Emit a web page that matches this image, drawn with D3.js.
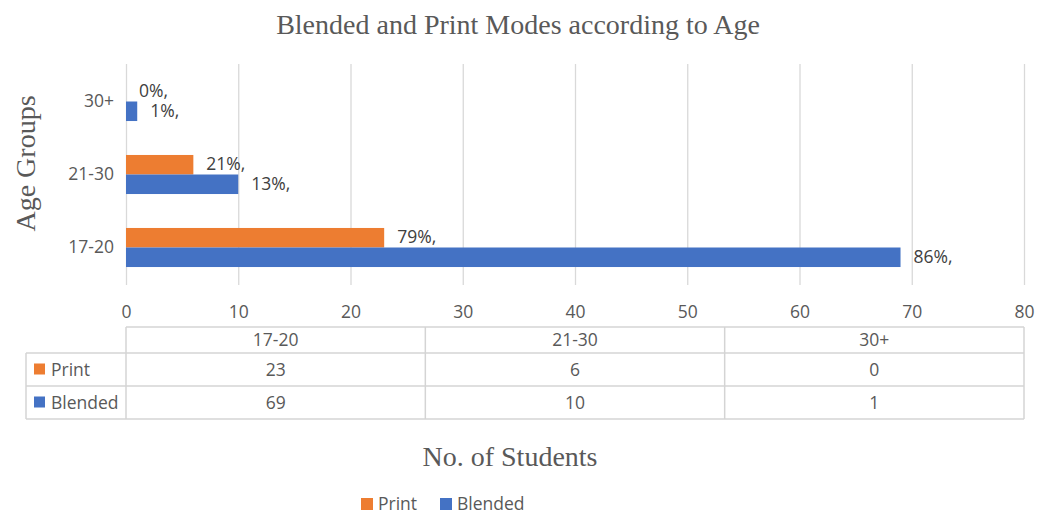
<!DOCTYPE html>
<html>
<head>
<meta charset="utf-8">
<script src="https://cdn.jsdelivr.net/npm/d3@7"></script>
<style>
  html, body { margin: 0; padding: 0; background: #fff; }
  svg { display: block; }
</style>
</head>
<body>
<svg id="chart" width="1037" height="514"></svg>
<script>
// ---- data ----
const categories = ["17-20", "21-30", "30+"];
const seriesNames = ["Print", "Blended"];
const printValues = [23, 6, 0];
const blendedValues = [69, 10, 1];
const printLabels = ["79%,", "21%,", "0%,"];
const blendedLabels = ["86%,", "13%,", "1%,"];
const xTicks = [0, 10, 20, 30, 40, 50, 60, 70, 80];
const colors = { Print: "#ED7D31", Blended: "#4472C4" };

const titleText = "Blended and Print Modes according to Age";
const yTitleText = "Age Groups";
const xTitleText = "No. of Students";

const series = [
  { name: "Print", values: printValues, labels: printLabels },
  { name: "Blended", values: blendedValues, labels: blendedLabels }
];

const textColor = "#595959";
const gridColor = "#d9d9d9";
const sans = "'Open Sans', 'Liberation Sans', sans-serif";
const serif = "'Liberation Serif', 'DejaVu Serif', serif";
const fs = 17.5;
const serifSize = 28;

const svg = d3.select("#chart");

const plot = { left: 126, right: 1024, top: 65, bottom: 284 };

const x = d3.scaleLinear().domain([0, 80]).range([plot.left, plot.right]);
const y = d3.scaleBand()
  .domain(categories.slice().reverse())
  .range([plot.top, plot.bottom])
  .paddingInner(0.465)
  .paddingOuter(0.2325);
const ySub = d3.scaleBand().domain(seriesNames).range([0, y.bandwidth()]);

// title
svg.append("text")
  .attr("x", 518).attr("y", 34)
  .attr("text-anchor", "middle")
  .attr("font-family", serif).attr("font-size", serifSize)
  .attr("fill", textColor)
  .text(titleText);

// gridlines via axis
const gridAxis = d3.axisBottom(x).tickValues(xTicks).tickSize(-(plot.bottom - plot.top + 2)).tickFormat("");
svg.append("g")
  .attr("transform", `translate(0,${plot.bottom + 1})`)
  .call(gridAxis)
  .call(g => g.select(".domain").remove())
  .call(g => g.selectAll("line").attr("stroke", gridColor).attr("stroke-width", 1.3));

// x tick labels
const xAxis = d3.axisBottom(x).tickValues(xTicks).tickSize(0).tickPadding(0).tickFormat(d3.format("d"));
svg.append("g")
  .attr("transform", `translate(0,${plot.bottom + 20})`)
  .call(xAxis)
  .call(g => g.select(".domain").remove())
  .call(g => g.selectAll("text")
    .attr("font-family", sans).attr("font-size", fs).attr("fill", textColor)
    .attr("dy", "0.8em"));

// y axis labels
const yAxis = d3.axisLeft(y).tickSize(0).tickPadding(0);
svg.append("g")
  .attr("transform", `translate(${plot.left - 12},0)`)
  .call(yAxis)
  .call(g => g.select(".domain").remove())
  .call(g => g.selectAll("text")
    .attr("font-family", sans).attr("font-size", fs).attr("fill", textColor));

// bars
const groups = svg.append("g").selectAll("g")
  .data(series).join("g")
  .attr("fill", d => colors[d.name]);

groups.selectAll("rect")
  .data(s => s.values.map((v, i) => ({ name: s.name, v, cat: categories[i] })))
  .join("rect")
  .attr("x", x(0))
  .attr("y", d => y(d.cat) + ySub(d.name))
  .attr("height", ySub.bandwidth())
  .attr("width", d => x(d.v) - x(0));

// data labels
svg.append("g").selectAll("g")
  .data(series).join("g")
  .selectAll("text")
  .data(s => s.values.map((v, i) => ({ name: s.name, v, cat: categories[i], label: s.labels[i] })))
  .join("text")
  .attr("x", d => x(d.v) + 13)
  .attr("y", d => y(d.cat) + ySub(d.name) + ySub.bandwidth() / 2)
  .attr("dy", "0.3em")
  .attr("font-family", sans).attr("font-size", fs).attr("fill", "#404040")
  .text(d => d.label);

// y title
svg.append("text")
  .attr("transform", `translate(35,${(plot.top + plot.bottom) / 2 - 11}) rotate(-90)`)
  .attr("text-anchor", "middle")
  .attr("font-family", serif).attr("font-size", serifSize)
  .attr("fill", textColor)
  .text(yTitleText);

// data table
const tbl = { left: 26, top: 327, headerBottom: 353, rowH: 33 };
const colX = d3.scaleBand().domain(categories).range([plot.left, plot.right]);
const tg = svg.append("g").attr("stroke", "#d4d4d4").attr("stroke-width", 1.5).attr("fill", "none");
const tableBottom = tbl.headerBottom + tbl.rowH * series.length;
tg.append("line").attr("x1", plot.left).attr("x2", plot.right).attr("y1", tbl.top).attr("y2", tbl.top);
[tbl.headerBottom].concat(series.map((s, i) => tbl.headerBottom + tbl.rowH * (i + 1))).forEach(yy => {
  tg.append("line").attr("x1", tbl.left).attr("x2", plot.right).attr("y1", yy).attr("y2", yy);
});
tg.append("line").attr("x1", tbl.left).attr("x2", tbl.left).attr("y1", tbl.headerBottom).attr("y2", tableBottom);
categories.forEach(c => {
  tg.append("line").attr("x1", colX(c)).attr("x2", colX(c)).attr("y1", tbl.top).attr("y2", tableBottom);
});
tg.append("line").attr("x1", plot.right).attr("x2", plot.right).attr("y1", tbl.top).attr("y2", tableBottom);

svg.append("g").selectAll("text").data(categories).join("text")
  .attr("x", c => colX(c) + colX.bandwidth() / 2)
  .attr("y", (tbl.top + tbl.headerBottom) / 2)
  .attr("dy", "0.35em")
  .attr("text-anchor", "middle")
  .attr("font-family", sans).attr("font-size", fs).attr("fill", textColor)
  .text(c => c);

series.forEach((s, i) => {
  const cy = tbl.headerBottom + tbl.rowH * i + tbl.rowH / 2;
  svg.append("rect")
    .attr("x", 34).attr("y", cy - 6).attr("width", 11).attr("height", 11)
    .attr("fill", colors[s.name]);
  svg.append("text")
    .attr("x", 51).attr("y", cy).attr("dy", "0.35em")
    .attr("font-family", sans).attr("font-size", fs).attr("fill", textColor)
    .text(s.name);
  svg.append("g").selectAll("text").data(s.values).join("text")
    .attr("x", (v, j) => colX(categories[j]) + colX.bandwidth() / 2)
    .attr("y", cy).attr("dy", "0.35em")
    .attr("text-anchor", "middle")
    .attr("font-family", sans).attr("font-size", fs).attr("fill", textColor)
    .text(v => v);
});

// x title
svg.append("text")
  .attr("x", 510).attr("y", 466)
  .attr("text-anchor", "middle")
  .attr("font-family", serif).attr("font-size", serifSize)
  .attr("fill", textColor)
  .text(xTitleText);

// bottom legend
const legendItems = [{ name: "Print", x: 361 }, { name: "Blended", x: 440 }];
const lg = svg.append("g").selectAll("g").data(legendItems).join("g")
  .attr("transform", d => `translate(${d.x},498)`);
lg.append("rect").attr("width", 12).attr("height", 12).attr("fill", d => colors[d.name]);
lg.append("text").attr("x", 17).attr("y", 6).attr("dy", "0.35em")
  .attr("font-family", sans).attr("font-size", fs).attr("fill", textColor)
  .text(d => d.name);
</script>
</body>
</html>
